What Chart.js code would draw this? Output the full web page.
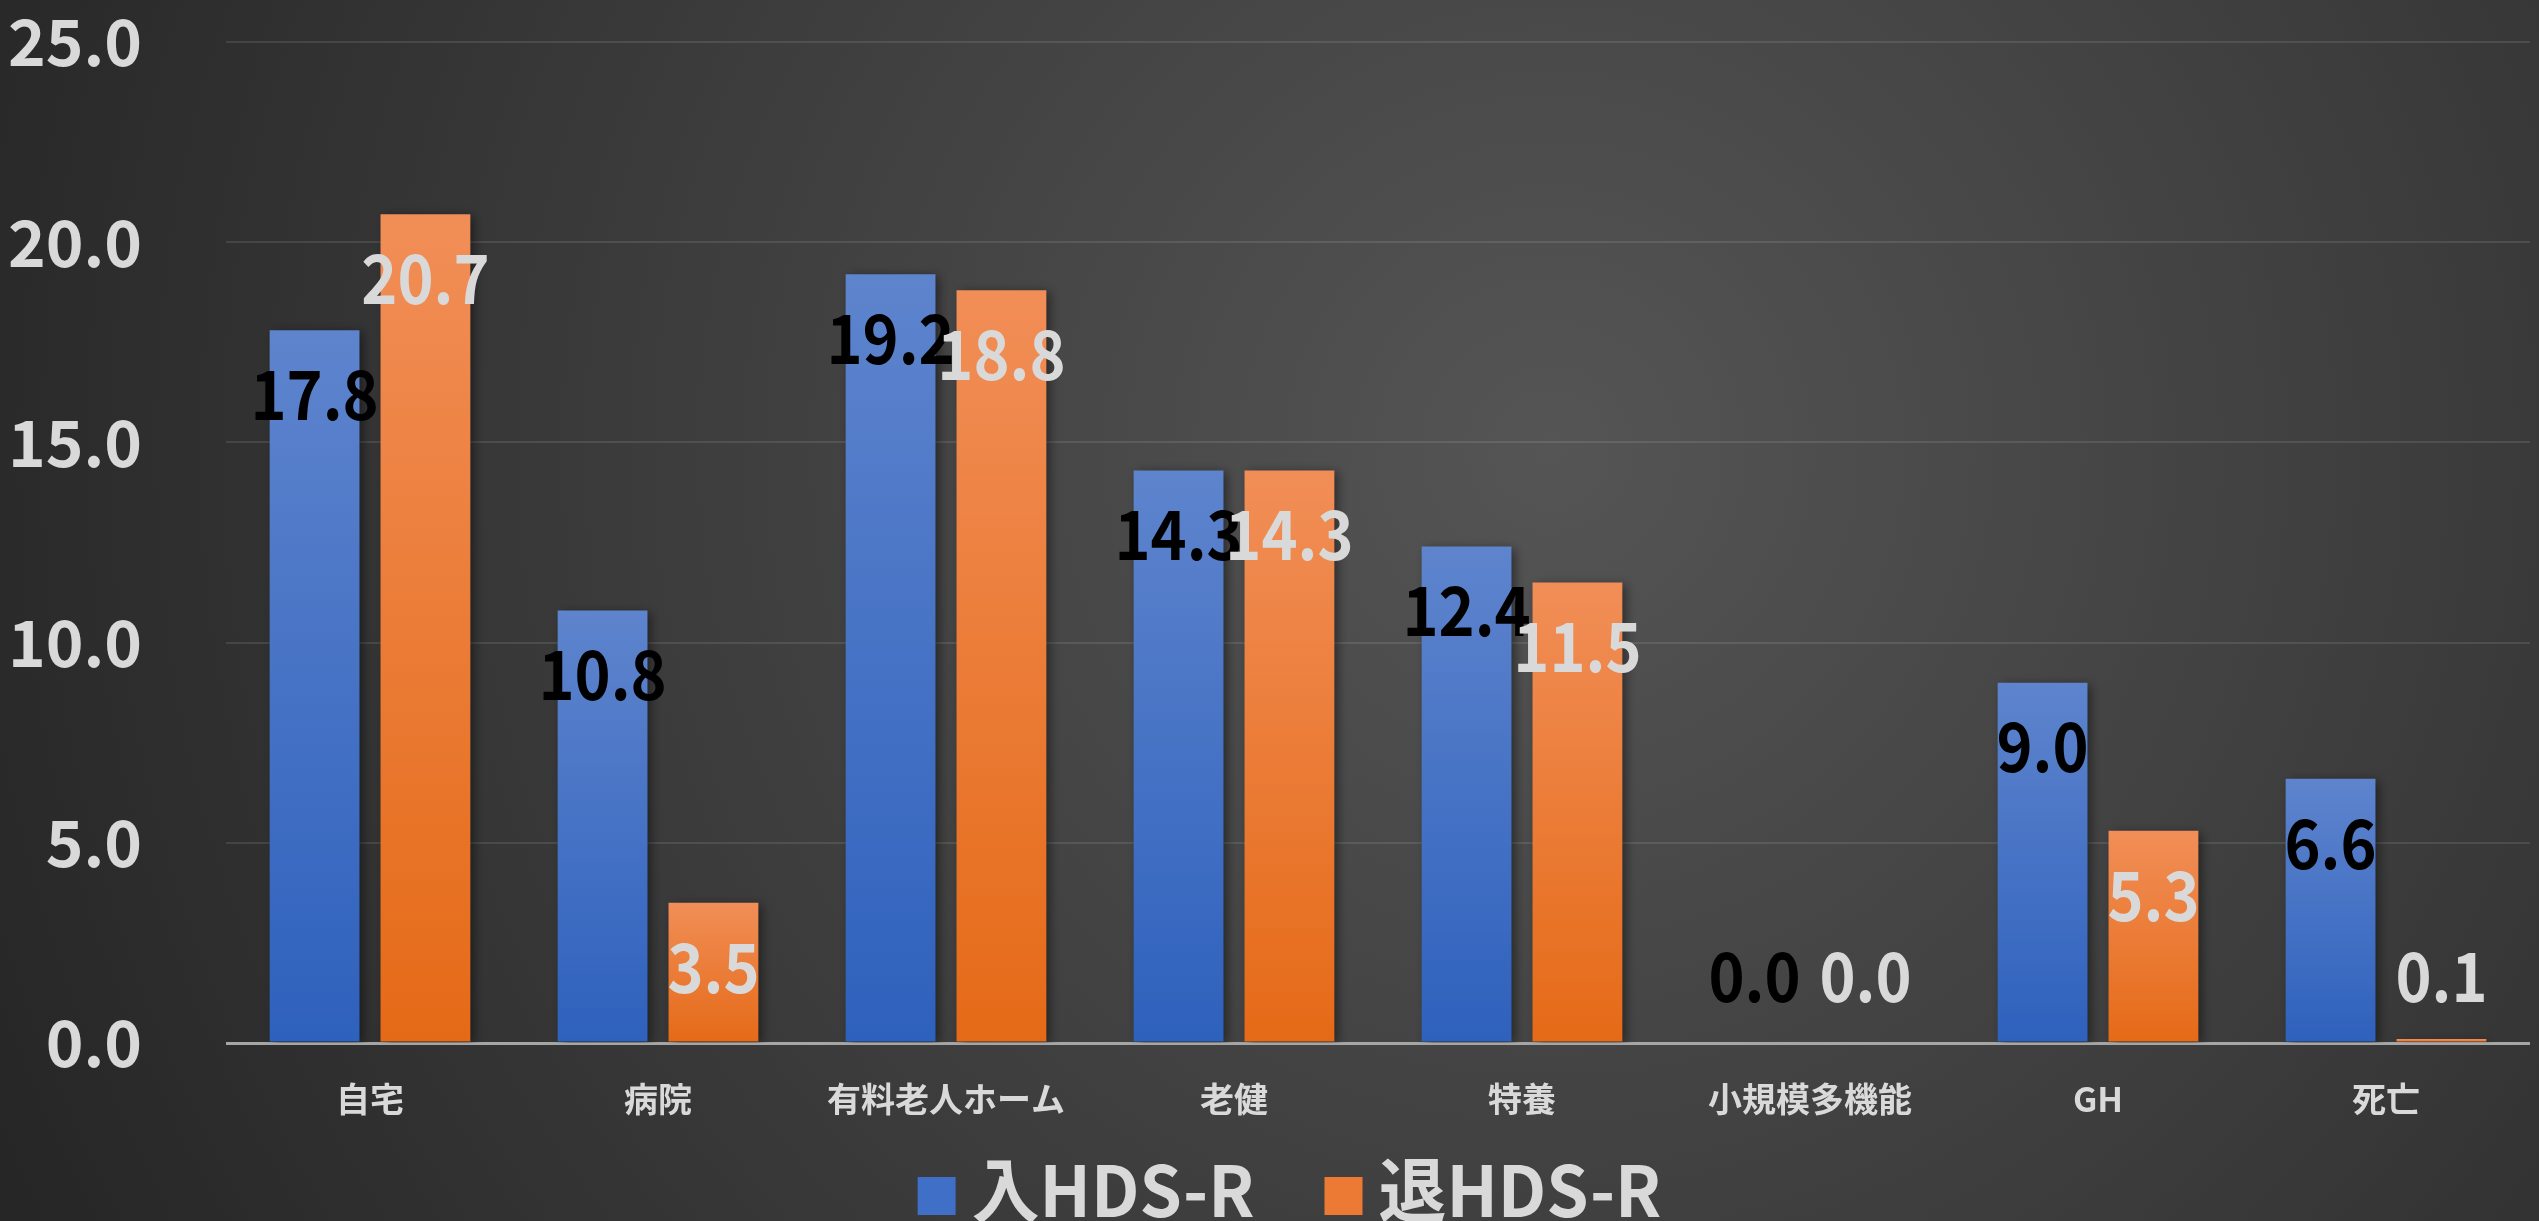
<!DOCTYPE html>
<html>
<head>
<meta charset="utf-8">
<script src="https://cdn.jsdelivr.net/npm/chart.js@4.4.1/dist/chart.umd.min.js"></script>
<style>
  html, body { margin: 0; padding: 0; background: #2b2b2b; }
  #wrap { width: 2539px; height: 1221px; }
</style>
</head>
<body>
<div id="wrap"><canvas id="myChart" width="2539" height="1221"></canvas></div>
<script>
const categories = ["自宅", "病院", "有料老人ホーム", "老健", "特養", "小規模多機能", "GH", "死亡"];
const admitValues = [17.8, 10.8, 19.2, 14.3, 12.4, 0.0, 9.0, 6.6];
const dischargeValues = [20.7, 3.5, 18.8, 14.3, 11.5, 0.0, 5.3, 0.1];
const yTicks = [0, 5, 10, 15, 20, 25];
const seriesNames = ["入HDS-R", "退HDS-R"];

const FONT = "'Noto Sans CJK JP', 'Noto Sans', sans-serif";
const LABEL_COLOR = "#d9d9d9";
const LEGEND_FILLS = ["#3f6fc6", "#ec7a35"];

// vertical gradient per bar, light at the top
function barGradient(top, bottom) {
  return (c) => {
    const chart = c.chart;
    const y = chart.scales.y;
    if (!chart.chartArea || !y || c.raw === undefined) return bottom;
    const y0 = y.getPixelForValue(0);
    let y1 = y.getPixelForValue(c.raw);
    if (y0 - y1 < 1) y1 = y0 - 1;
    const g = chart.ctx.createLinearGradient(0, y1, 0, y0);
    g.addColorStop(0, top);
    g.addColorStop(1, bottom);
    return g;
  };
}

const background = {
  id: "background",
  beforeDraw(chart) {
    const { ctx, width, height } = chart;
    const g = ctx.createRadialGradient(1550, 450, 0, 1550, 450, 1700);
    g.addColorStop(0, "#555555");
    g.addColorStop(1, "#262626");
    ctx.save();
    ctx.fillStyle = g;
    ctx.fillRect(0, 0, width, height);
    ctx.restore();
  },
};

const barShadow = {
  id: "barShadow",
  beforeDatasetsDraw(chart) {
    const ctx = chart.ctx;
    ctx.save();
    ctx.shadowColor = "rgba(0,0,0,0.45)";
    ctx.shadowBlur = 10;
    ctx.shadowOffsetX = 4;
    ctx.shadowOffsetY = 2;
  },
  afterDatasetsDraw(chart) {
    chart.ctx.restore();
  },
};

// value labels inside the top end of each bar
const valueLabels = {
  id: "valueLabels",
  afterDatasetsDraw(chart) {
    const ctx = chart.ctx;
    const base = chart.scales.y.getPixelForValue(0);
    const colors = ["#000000", LABEL_COLOR];
    ctx.save();
    ctx.font = "bold 68px " + FONT;
    ctx.textAlign = "center";
    ctx.textBaseline = "middle";
    chart.data.datasets.forEach((ds, i) => {
      const meta = chart.getDatasetMeta(i);
      ctx.fillStyle = colors[i];
      meta.data.forEach((bar, j) => {
        const y = Math.min(bar.y + 64, base - 67);
        ctx.save();
        ctx.translate(bar.x, y);
        ctx.scale(0.9, 1);
        ctx.fillText(ds.data[j].toFixed(1), 0, 0);
        ctx.restore();
      });
    });
    ctx.restore();
  },
};

// legend drawn at the bottom, centred
const bottomLegend = {
  id: "bottomLegend",
  afterDraw(chart) {
    const ctx = chart.ctx;
    const box = 38, gap = 16, itemGap = 70, cy = 1190, sx = 0.97;
    ctx.save();
    ctx.font = "bold 70px " + FONT;
    ctx.textBaseline = "middle";
    const widths = seriesNames.map((t) => ctx.measureText(t).width * sx);
    const total = widths.reduce((a, w) => a + box + gap + w, 0) + itemGap * (seriesNames.length - 1);
    let x = chart.width / 2 + 20 - total / 2;
    seriesNames.forEach((t, i) => {
      ctx.fillStyle = LEGEND_FILLS[i];
      ctx.fillRect(x, cy - 13, box, box);
      x += box + gap;
      ctx.fillStyle = LABEL_COLOR;
      ctx.save();
      ctx.translate(x, cy);
      ctx.scale(sx, 1);
      ctx.fillText(t, 0, 0);
      ctx.restore();
      x += widths[i] + itemGap;
    });
    ctx.restore();
  },
};

const ctx = document.getElementById("myChart").getContext("2d");
const myChart = new Chart(ctx, {
  type: "bar",
  data: {
    labels: categories,
    datasets: [
      {
        label: seriesNames[0],
        data: admitValues,
        backgroundColor: barGradient("#5e84cd", "#2e61bd"),
        categoryPercentage: 0.77,
        barPercentage: 0.81,
      },
      {
        label: seriesNames[1],
        data: dischargeValues,
        backgroundColor: barGradient("#f18e57", "#e56a17"),
        categoryPercentage: 0.77,
        barPercentage: 0.81,
      },
    ],
  },
  options: {
    responsive: false,
    animation: false,
    devicePixelRatio: 1,
    layout: { padding: { top: 42, right: 9, left: 0, bottom: 72 } },
    plugins: {
      legend: { display: false },
      tooltip: { enabled: false },
    },
    scales: {
      x: {
        grid: { display: false },
        border: { display: false },
        ticks: {
          color: LABEL_COLOR,
          padding: 28,
          font: { family: FONT, size: 34, weight: "bold" },
          maxRotation: 0,
        },
        afterFit(scale) {
          scale.height = 106;
          scale.paddingLeft = 0;
          scale.paddingRight = 0;
        },
      },
      y: {
        min: 0,
        max: 25,
        afterBuildTicks(scale) { scale.ticks = yTicks.map((v) => ({ value: v })); },
        grid: {
          color: (c) => (c.tick && c.tick.value === 0 ? "#a6a6a6" : "rgba(255,255,255,0.1)"),
          lineWidth: (c) => (c.tick && c.tick.value === 0 ? 3 : 2),
          drawTicks: false,
        },
        border: { display: false },
        ticks: {
          color: LABEL_COLOR,
          padding: 84,
          font: { family: FONT, size: 64, weight: "bold" },
          callback: (v) => Number(v).toFixed(1),
        },
        afterFit(scale) {
          scale.width = 226;
          scale.paddingTop = 0;
          scale.paddingBottom = 0;
        },
      },
    },
  },
  plugins: [background, barShadow, valueLabels, bottomLegend],
});
</script>
</body>
</html>
